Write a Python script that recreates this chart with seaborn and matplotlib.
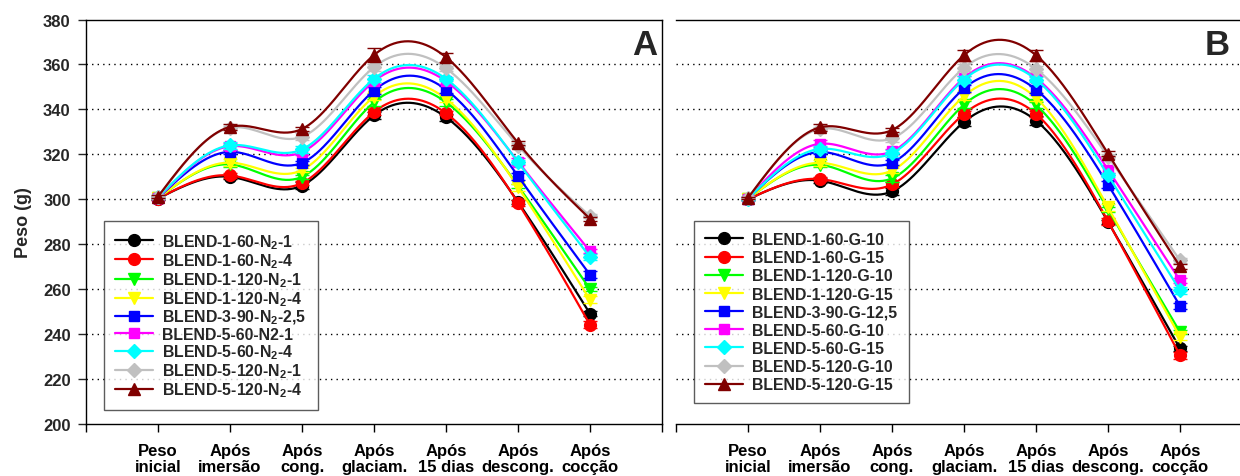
import numpy as np
import pandas as pd
import matplotlib
matplotlib.use("Agg")
import matplotlib.pyplot as plt
from matplotlib.lines import Line2D
import seaborn as sns

# ---- data -------------------------------------------------------------
categories = ["Peso\ninicial", "Após\nimersão", "Após\ncong.", "Após\nglaciam.",
              "Após\n15 dias", "Após\ndescong.", "Após\ncocção"]

labels_a = ["BLEND-1-60-N$_2$-1", "BLEND-1-60-N$_2$-4", "BLEND-1-120-N$_2$-1",
            "BLEND-1-120-N$_2$-4", "BLEND-3-90-N$_2$-2,5", "BLEND-5-60-N2-1",
            "BLEND-5-60-N$_2$-4", "BLEND-5-120-N$_2$-1", "BLEND-5-120-N$_2$-4"]
labels_b = ["BLEND-1-60-G-10", "BLEND-1-60-G-15", "BLEND-1-120-G-10",
            "BLEND-1-120-G-15", "BLEND-3-90-G-12,5", "BLEND-5-60-G-10",
            "BLEND-5-60-G-15", "BLEND-5-120-G-10", "BLEND-5-120-G-15"]

# Panel A (N2 treatments), weight in g
a_1_60_1 = [300.3, 310.0, 306.1, 337.3, 336.5, 298.8, 249.1]
a_1_60_4 = [300.3, 310.6, 307.2, 338.8, 338.3, 298.4, 244.2]
a_1_120_1 = [300.5, 315.5, 310.0, 343.2, 343.2, 306.0, 260.0]
a_1_120_4 = [300.5, 316.3, 313.0, 345.7, 344.7, 305.4, 255.3]
a_3_90_25 = [300.5, 321.1, 316.2, 348.4, 348.8, 310.3, 266.4]
a_5_60_1 = [300.5, 323.6, 321.0, 352.5, 352.5, 316.8, 276.9]
a_5_60_4 = [300.8, 324.0, 322.2, 353.6, 353.6, 316.5, 274.3]
a_5_120_1 = [300.8, 331.8, 327.8, 358.8, 358.3, 323.9, 292.5]
a_5_120_4 = [301.2, 332.2, 331.3, 364.2, 363.2, 325.1, 291.3]

# Panel B (glazing treatments), weight in g
b_1_60_10 = [300.0, 308.3, 303.5, 334.4, 335.0, 290.0, 233.6]
b_1_60_15 = [300.0, 309.0, 306.6, 338.0, 338.0, 290.2, 230.6]
b_1_120_10 = [300.2, 315.3, 309.3, 342.1, 341.9, 295.5, 240.9]
b_1_120_15 = [300.2, 316.2, 312.8, 345.9, 345.1, 296.4, 238.8]
b_3_90_125 = [300.3, 321.0, 316.3, 349.3, 348.8, 306.5, 252.5]
b_5_60_10 = [300.3, 324.7, 321.3, 354.0, 354.0, 313.2, 263.9]
b_5_60_15 = [300.3, 322.4, 320.5, 353.3, 353.3, 310.7, 259.5]
b_5_120_10 = [300.5, 331.3, 327.1, 358.5, 358.0, 319.0, 272.8]
b_5_120_15 = [300.6, 332.0, 330.8, 364.1, 364.1, 320.3, 270.1]

# standard deviations
err_a = [[0.5, 1.0, 1.5, 1.5, 1.5, 1.0, 1.0],
         [0.5, 1.0, 1.0, 1.5, 1.0, 1.5, 1.5],
         [0.5, 1.0, 1.0, 1.5, 1.5, 1.0, 1.0],
         [0.5, 1.5, 1.0, 1.5, 1.5, 1.5, 1.5],
         [0.5, 1.0, 1.0, 1.5, 1.5, 1.5, 1.5],
         [0.5, 1.5, 1.5, 1.0, 1.0, 1.5, 1.0],
         [0.5, 1.5, 1.5, 1.5, 1.0, 1.0, 1.5],
         [0.5, 1.0, 1.5, 1.5, 1.0, 1.0, 1.0],
         [0.5, 1.5, 1.0, 3.0, 2.0, 1.0, 1.0]]
err_b = [[0.5, 1.0, 1.5, 2.0, 2.0, 1.0, 1.0],
         [0.5, 1.0, 1.0, 1.5, 1.5, 1.5, 1.5],
         [0.5, 1.0, 1.5, 1.5, 1.5, 1.0, 1.0],
         [0.5, 1.5, 1.0, 1.5, 1.5, 1.5, 1.5],
         [0.5, 1.0, 1.0, 1.5, 1.5, 1.5, 1.5],
         [0.5, 1.5, 1.0, 1.0, 1.0, 1.5, 1.0],
         [0.5, 1.5, 1.5, 1.5, 1.0, 1.0, 1.5],
         [0.5, 1.0, 1.5, 1.5, 1.5, 1.0, 1.0],
         [0.5, 1.5, 1.0, 2.5, 2.5, 1.0, 1.0]]

series_a = [a_1_60_1, a_1_60_4, a_1_120_1, a_1_120_4, a_3_90_25,
            a_5_60_1, a_5_60_4, a_5_120_1, a_5_120_4]
series_b = [b_1_60_10, b_1_60_15, b_1_120_10, b_1_120_15, b_3_90_125,
            b_5_60_10, b_5_60_15, b_5_120_10, b_5_120_15]

colors = ["#000000", "#ff0000", "#00ff00", "#ffff00", "#0000ff",
          "#ff00ff", "#00ffff", "#c0c0c0", "#800000"]
markers = ["o", "o", "v", "v", "s", "s", "D", "D", "^"]
msizes = [8.5, 8.5, 8.5, 8.5, 7.5, 7.5, 7.5, 7.5, 8.5]

# ---- style ------------------------------------------------------------
sns.set_theme(style="white")
plt.rcParams["font.family"] = ["Liberation Sans", "DejaVu Sans"]
plt.rcParams["font.weight"] = "bold"
plt.rcParams["mathtext.fontset"] = "custom"
plt.rcParams["mathtext.rm"] = "Liberation Sans:bold"
plt.rcParams["mathtext.bf"] = "Liberation Sans:bold"
plt.rcParams["mathtext.it"] = "Liberation Sans:bold"
plt.rcParams["mathtext.default"] = "bf"


def natural_spline(x, y, n=40):
    """Natural cubic spline through (x, y), sampled densely for drawing."""
    x = np.asarray(x, float)
    y = np.asarray(y, float)
    k = len(x)
    h = np.diff(x)
    A = np.zeros((k, k))
    r = np.zeros(k)
    A[0, 0] = A[-1, -1] = 1.0
    for i in range(1, k - 1):
        A[i, i - 1] = h[i - 1]
        A[i, i] = 2 * (h[i - 1] + h[i])
        A[i, i + 1] = h[i]
        r[i] = 6 * ((y[i + 1] - y[i]) / h[i] - (y[i] - y[i - 1]) / h[i - 1])
    m = np.linalg.solve(A, r)
    xs, ys = [], []
    for i in range(k - 1):
        t = np.linspace(x[i], x[i + 1], n, endpoint=(i == k - 2))
        a = x[i + 1] - t
        b = t - x[i]
        s = (m[i] * a ** 3 + m[i + 1] * b ** 3) / (6 * h[i]) \
            + (y[i] / h[i] - m[i] * h[i] / 6) * a \
            + (y[i + 1] / h[i] - m[i + 1] * h[i] / 6) * b
        xs.append(t)
        ys.append(s)
    return np.concatenate(xs), np.concatenate(ys)


def draw_panel(ax, series, errs, labels, letter, letter_x, show_y, lspace):
    xpos = np.arange(1, len(categories) + 1)
    for i, (vals, err) in enumerate(zip(series, errs)):
        sx, sy = natural_spline(xpos, vals)
        curve = pd.DataFrame({"x": sx, "y": sy})
        sns.lineplot(data=curve, x="x", y="y", ax=ax, color=colors[i],
                     lw=1.6, sort=False, estimator=None, zorder=3 + 2 * i)
        ax.errorbar(xpos, vals, yerr=err, fmt=markers[i], color=colors[i],
                    ms=msizes[i], mec=colors[i], elinewidth=1.0, capsize=5,
                    capthick=1.0, zorder=4 + 2 * i)

    ax.set_xlim(0, 8)
    ax.set_ylim(200, 380)
    ax.set_xticks(np.arange(0, 9))
    ax.set_xticklabels([""] + categories + [""], fontsize=12,
                       fontweight="bold", linespacing=1.05)
    ax.set_yticks(np.arange(200, 381, 20))
    for g in range(220, 361, 20):
        ax.axhline(g, color="black", lw=1.0, ls=(0, (1, 3)), zorder=1)
    ax.set_xlabel("")
    ax.set_ylabel("")
    ax.tick_params(axis="x", direction="out", length=6, width=1.0,
                   pad=8, colors="black", bottom=True)
    for sp in ax.spines.values():
        sp.set_color("black")
        sp.set_linewidth(1.0)
    if show_y:
        ax.tick_params(axis="y", direction="out", length=6, width=1.0,
                       pad=5, left=True, labelsize=12)
        for t in ax.get_yticklabels():
            t.set_fontweight("bold")
        ax.set_ylabel("Peso (g)", fontsize=13, fontweight="bold")
        ax.yaxis.set_label_coords(-0.093, 0.5)
    else:
        ax.spines["left"].set_visible(False)
        ax.tick_params(axis="y", left=False, labelleft=False)

    handles = [Line2D([0], [0], color=c, marker=m, ms=ms, lw=1.6)
               for c, m, ms in zip(colors, markers, msizes)]
    leg = ax.legend(handles, labels, loc="upper left",
                    bbox_to_anchor=(0.031, 0.502), borderaxespad=0,
                    prop={"weight": "bold", "size": 11.4},
                    frameon=True, fancybox=False, edgecolor="#333333",
                    labelspacing=lspace, handlelength=2.4, handletextpad=0.6,
                    borderpad=0.7)
    leg.get_frame().set_linewidth(1.0)
    leg.set_zorder(30)
    ax.text(letter_x, 0.939, letter, transform=ax.transAxes, fontsize=25,
            fontweight="bold", ha="center", va="center", zorder=31)


fig = plt.figure(figsize=(12.4, 4.77), dpi=100)
W, H = 1240.0, 477.0
ax_a = fig.add_axes([86 / W, 52 / H, 576 / W, 404.5 / H])
ax_b = fig.add_axes([676 / W, 52 / H, 576 / W, 404.5 / H])

draw_panel(ax_a, series_a, err_a, labels_a, "A", 0.970, True, 0.02)
draw_panel(ax_b, series_b, err_b, labels_b, "B", 0.939, False, 0.2)

fig.savefig("out.png", dpi=100)
